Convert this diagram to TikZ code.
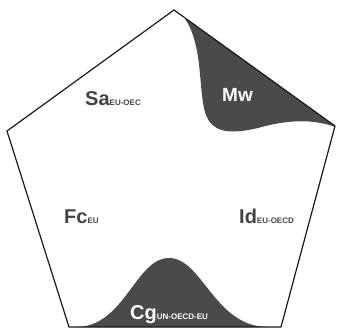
\documentclass[tikz,border=0pt]{standalone}
\usepackage{fontspec}
\setmainfont{Liberation Sans}
\definecolor{darkfill}{HTML}{4A4A4A}
\definecolor{txt}{HTML}{444444}
\tikzset{
  lbl/.style={anchor=base west, inner sep=0pt, text=txt, font=\bfseries},
  wlbl/.style={anchor=base west, inner sep=0pt, text=white, font=\bfseries},
  edge/.style={draw=black!90, line width=1.2pt, line join=miter}
}
\newcommand{\bigtxt}[1]{{\fontsize{20}{20}\selectfont #1}}
\newcommand{\smtxt}[1]{{\fontsize{8}{8}\selectfont #1}}
\begin{document}
\begin{tikzpicture}[x=1pt,y=-1pt]
\useasboundingbox (0,0) rectangle (337,329);
\coordinate (T) at (174,10);
\coordinate (R) at (335,126);
\coordinate (BR) at (281,327);
\coordinate (BL) at (69,327);
\coordinate (L) at (7,131);
\begin{scope}
\clip (T) -- (R) -- (BR) -- (BL) -- (L) -- cycle;
% Mw region
\fill[darkfill] (178,10) .. controls (203,35) and (198,80) .. (204,108)
  .. controls (209,133) and (228,135) .. (258,128)
  .. controls (290,119) and (318,118) .. (345,131) -- (345,0) -- cycle;
% Cg bell
\fill[darkfill] (60,330) -- (78,327) .. controls (125,325) and (136,258) .. (169,258)
  .. controls (202,258) and (214,325) .. (266,327) -- (290,330) -- cycle;
\end{scope}
\draw[edge] (T) -- (R) -- (BR) -- (BL) -- (L) -- cycle;
\node[lbl] (sa) at (85,105) {\bigtxt{Sa}\smtxt{EU-OEC}};
\node[wlbl] (mw) at (222,101) {\fontsize{19}{19}\selectfont Mw};
\node[lbl] (fc) at (64,223) {\bigtxt{Fc}\smtxt{EU}};
\node[lbl] (id) at (239,223) {\bigtxt{Id}\smtxt{EU-OECD}};
\node[wlbl] (cg) at (130,319) {\bigtxt{Cg}\smtxt{UN-OECD-EU}};
\end{tikzpicture}
\end{document}
